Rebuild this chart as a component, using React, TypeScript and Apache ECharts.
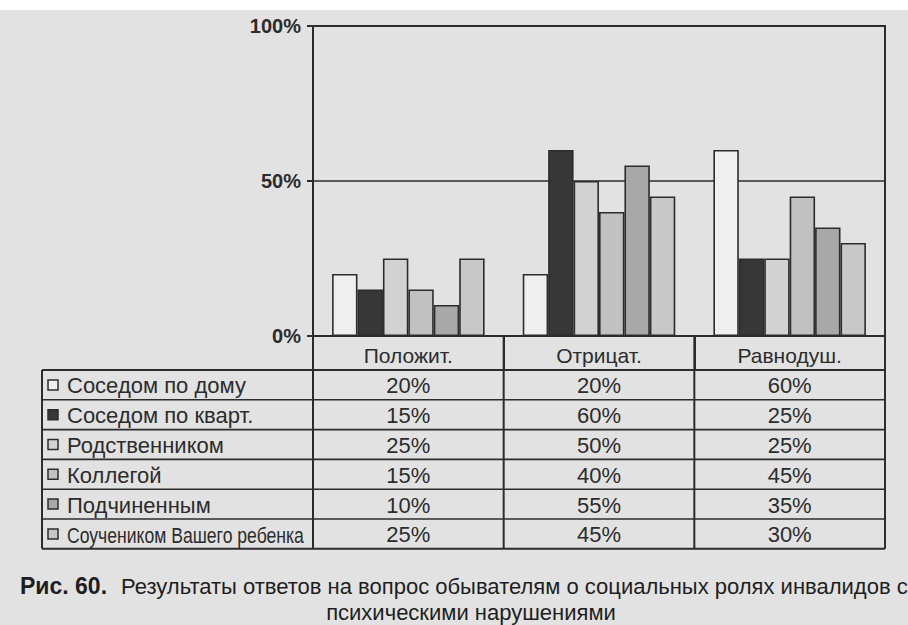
import React, { useEffect, useRef } from 'react';
import * as echarts from 'echarts';

// Answer categories (x axis) and respondents' roles (series)
const categories = ['Положит.', 'Отрицат.', 'Равнодуш.'];
const roleNames = [
  'Соседом по дому',
  'Соседом по кварт.',
  'Родственником',
  'Коллегой',
  'Подчиненным',
  'Соучеником Вашего ребенка',
];
const neighbourHouse = [20, 20, 60];
const neighbourFlat = [15, 60, 25];
const relative = [25, 50, 25];
const colleague = [15, 40, 45];
const subordinate = [10, 55, 35];
const classmate = [25, 45, 30];
const roleValues = [neighbourHouse, neighbourFlat, relative, colleague, subordinate, classmate];

const yMin = 0;
const yMax = 100;
const yStep = 50;

const captionLead = 'Рис. 60.';
const captionLine1 = 'Результаты ответов на вопрос обывателям о социальных ролях инвалидов с';
const captionLine2 = 'психическими нарушениями';

// Styling / layout
const FONT = '"Liberation Sans", Arial, Helvetica, sans-serif';
const INK = '#2c2c2c';
const PAPER = '#e2e2e2';
const FILLS = ['#efefef', '#373737', '#d2d2d2', '#c1c1c1', '#a8a8a8', '#c8c8c8'];

const W = 908;
const H = 625;
const GRID_LEFT = 313;
const GRID_RIGHT = 885;
const GRID_TOP = 26;
const GRID_BOTTOM = 336;
const TABLE_LEFT = 42;
const HEADER_BOTTOM = 370;
const ROW_H = 29.8;
const TABLE_FONT = 22;

function textEl(x: number, y: number, text: string, opts: any = {}) {
  const { align = 'left', fontSize = TABLE_FONT, fontWeight = 'normal', scaleX = 1, fill = INK } = opts;
  return {
    type: 'text',
    z: 6,
    silent: true,
    x,
    y,
    scaleX,
    style: {
      text,
      fontSize,
      fontWeight,
      fontFamily: FONT,
      fill,
      align,
      verticalAlign: 'middle',
      textAlign: align,
      textVerticalAlign: 'middle',
    },
  };
}

function buildGraphics() {
  const els: any[] = [];
  // scanned page tone, with the white margin strip on top
  els.push({ type: 'rect', z: -10, silent: true, shape: { x: 0, y: 0, width: W, height: H }, style: { fill: PAPER } });
  els.push({ type: 'rect', z: -9, silent: true, shape: { x: 0, y: 0, width: W, height: 10 }, style: { fill: '#ffffff' } });

  const nRows = roleNames.length;
  const tableBottom = HEADER_BOTTOM + nRows * ROW_H;
  const colW = (GRID_RIGHT - GRID_LEFT) / categories.length;

  const line = (x1: number, y1: number, x2: number, y2: number, w: number) => ({
    type: 'line',
    silent: true,
    z: 5,
    shape: { x1, y1, x2, y2 },
    style: { stroke: INK, lineWidth: w },
  });

  // horizontal rules
  for (let i = 0; i <= nRows; i++) {
    const y = HEADER_BOTTOM + i * ROW_H;
    els.push(line(TABLE_LEFT, y, GRID_RIGHT, y, i === 0 || i === nRows ? 2 : 1.6));
  }
  // vertical rules
  els.push(line(TABLE_LEFT, HEADER_BOTTOM, TABLE_LEFT, tableBottom, 2));
  for (let c = 0; c <= categories.length; c++) {
    const x = GRID_LEFT + c * colW;
    els.push(line(x, GRID_BOTTOM, x, tableBottom, 2));
  }

  // legend column + values
  roleNames.forEach((name, r) => {
    const cy = HEADER_BOTTOM + r * ROW_H + ROW_H / 2;
    els.push({
      type: 'rect',
      z: 6,
      silent: true,
      shape: { x: 48, y: cy - 5, width: 10, height: 10 },
      style: { fill: FILLS[r], stroke: INK, lineWidth: 1.5 },
    });
    const condensed = r === nRows - 1;
    els.push(textEl(67, cy + 1, name, { scaleX: condensed ? 0.8 : 1 }));
    roleValues[r].forEach((v, c) => {
      els.push(textEl(GRID_LEFT + c * colW + colW / 2, cy + 1, v + '%', { align: 'center' }));
    });
  });

  // figure caption
  els.push(textEl(20, 586, captionLead, { fontSize: 23, fontWeight: 'bold', fill: '#1e1e1e' }));
  els.push(textEl(121, 586, captionLine1, { fontSize: 22, fill: '#1e1e1e' }));
  els.push(textEl(471, 612, captionLine2, { fontSize: 22, fill: '#1e1e1e', align: 'center' }));
  return els;
}

export default function App() {
  const ref = useRef<HTMLDivElement>(null);

  useEffect(() => {
    if (!ref.current) return;
    const chart = echarts.init(ref.current, undefined, { renderer: 'svg' });
    chart.setOption({
      animation: false,
      backgroundColor: PAPER,
      grid: {
        left: GRID_LEFT,
        top: GRID_TOP,
        width: GRID_RIGHT - GRID_LEFT,
        height: GRID_BOTTOM - GRID_TOP,
        show: true,
        borderColor: INK,
        borderWidth: 2,
        backgroundColor: 'transparent',
      },
      xAxis: {
        type: 'category',
        data: categories,
        axisLine: { lineStyle: { color: INK, width: 2 } },
        axisTick: { show: true, length: 34, lineStyle: { color: INK, width: 2 } },
        axisLabel: { margin: 9, fontSize: 21, color: INK, fontFamily: FONT },
        splitLine: { show: false },
      },
      yAxis: {
        type: 'value',
        min: yMin,
        max: yMax,
        interval: yStep,
        axisLine: { show: true, lineStyle: { color: INK, width: 2 } },
        axisTick: { show: true, length: 6, lineStyle: { color: INK, width: 2 } },
        axisLabel: {
          formatter: '{value}%',
          margin: 12,
          fontSize: 20,
          fontWeight: 'bold',
          color: INK,
          fontFamily: FONT,
        },
        splitLine: { show: true, lineStyle: { color: INK, width: 1.6 } },
      },
      series: roleNames.map((name, i) => ({
        name,
        type: 'bar',
        data: roleValues[i],
        barGap: '0%',
        barCategoryGap: '20%',
        itemStyle: { color: FILLS[i], borderColor: INK, borderWidth: 1.6 },
      })),
      graphic: buildGraphics(),
    });
    return () => chart.dispose();
  }, []);

  return (
    <div
      ref={ref}
      style={{ position: 'absolute', left: 0, top: 0, width: W, height: H }}
    />
  );
}
